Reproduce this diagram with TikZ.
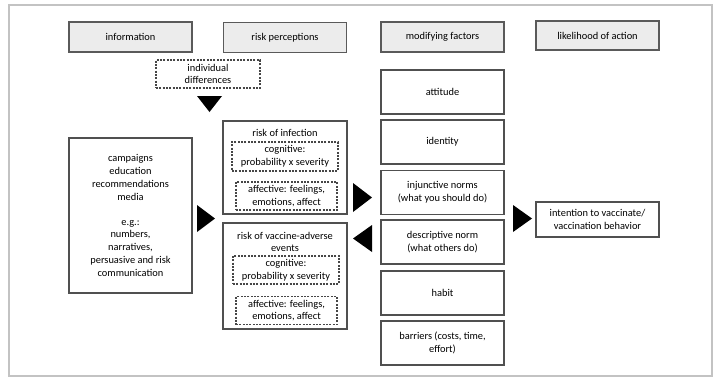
\documentclass[tikz,border=0pt]{standalone}
\usepackage{fontspec}
\setmainfont{Carlito}

\tikzset{every picture/.style={line width=0.75pt}}
\tikzset{
  txt/.style={font=\fontsize{7.8}{9.6}\selectfont, align=center, inner sep=1pt},
  headbox/.style={txt, draw={rgb,255:red,90;green,90;blue,90}, fill={rgb,255:red,236;green,236;blue,236}, line width=1.3pt, minimum width=92.25pt, minimum height=22.5pt},
  factbox/.style={txt, draw={rgb,255:red,80;green,80;blue,80}, line width=1.3pt, minimum width=92.25pt, minimum height=33pt},
  dashbox/.style={txt, draw={rgb,255:red,70;green,70;blue,70}, dash pattern={on 1.5pt off 1pt}, line width=0.9pt},
  tri/.style={fill=black, draw=none}
}

\begin{document}
\begin{tikzpicture}[x=0.75pt,y=0.75pt,yscale=-1,xscale=1]
\useasboundingbox (0,0) rectangle (713,379);

%Shape: Frame
\draw [color={rgb, 255:red, 195; green, 195; blue, 195 }, line width=1.5pt] (9,5) rectangle (712,376);

% Header row
\node [headbox] (hinfo) at (130.5,37) {information};
\node [headbox] (hrisk) at (285,37.5) {risk perceptions};
\node [headbox] (hmod) at (442.5,37) {modifying factors};
\node [headbox, minimum height=21.75pt] (hact) at (597.5,35.5) {likelihood of action};

% Individual differences
\node [dashbox, fill=white, minimum width=78pt, minimum height=21pt] (indiv) at (208,74) {individual\\differences};

% Information box
\node [factbox, minimum height=116.25pt] (info) at (130.5,215.5) {campaigns\\education\\recommendations\\media\\[9pt]e.g.:\\numbers,\\narratives,\\persuasive and risk\\communication};

% Risk of infection
\node [factbox, minimum width=93pt, minimum height=69.75pt] (rinf) at (285,167.5) {};
\node [txt] (rinflab) at (285,133) {risk of infection};
\node [dashbox, minimum width=79.5pt, minimum height=21.75pt] (cog1) at (285,156.5) {cognitive:\\probability x severity};
\node [dashbox, minimum width=75.75pt, minimum height=21pt] (aff1) at (286.5,196) {affective: feelings,\\emotions, affect};

% Risk of vaccine-adverse events
\node [factbox, minimum width=93pt, minimum height=79.5pt] (rvac) at (285,276) {};
\node [txt] (rvaclab) at (285,242) {risk of vaccine-adverse\\events};
\node [dashbox, minimum width=79.5pt, minimum height=21pt] (cog2) at (286,270) {cognitive:\\probability x severity};
\node [dashbox, minimum width=75.75pt, minimum height=21pt] (aff2) at (286.5,310.5) {affective: feelings,\\emotions, affect};

% Modifying factors
\node [factbox] (att) at (442.5,92) {attitude};
\node [factbox] (ident) at (442.5,142) {identity};
\node [factbox] (inj) at (442.5,192.5) {injunctive norms\\(what you should do)};
\node [factbox] (desc) at (442.5,242) {descriptive norm\\(what others do)};
\node [factbox] (habit) at (442.5,293) {habit};
\node [factbox] (barr) at (442.5,343) {barriers (costs, time,\\effort)};

% Likelihood of action
\node [factbox, minimum height=26.25pt] (intent) at (597.5,219.5) {intention to vaccinate/\\vaccination behavior};

%Shape: Triangles
\fill [tri] (197,96) -- (222,96) -- (209.5,112) -- cycle;
\fill [tri] (197,205) -- (197,232) -- (215,218.5) -- cycle;
\fill [tri] (353,183) -- (353,212) -- (372,197.5) -- cycle;
\fill [tri] (372,225) -- (372,252) -- (353,238.5) -- cycle;
\fill [tri] (513,205) -- (513,232) -- (532,218.5) -- cycle;

\end{tikzpicture}
\end{document}
